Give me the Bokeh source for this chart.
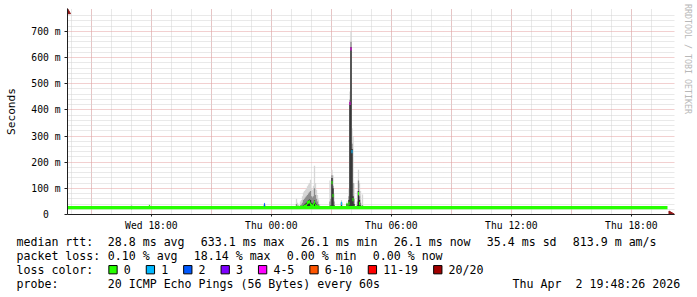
import math
from bokeh.plotting import figure
from bokeh.layouts import column
from bokeh.models import Range1d, FixedTicker, LinearAxis, ColumnDataSource
from bokeh.core.properties import value
from bokeh.embed import file_html
from bokeh.resources import INLINE

FONT = "DejaVu Sans Mono"

# ---------------- data ----------------
# time in hours since Wed 00:00; the graph covers 30 h ending Thu 19:48:26
t_end = 24 + 19 + 48 / 60 + 26 / 3600
t_start = t_end - 30

x_tick_hours = [18, 24, 30, 36, 42]
x_tick_labels = ["Wed 18:00", "Thu 00:00", "Thu 06:00", "Thu 12:00", "Thu 18:00"]
x_major_grid = [15, 18, 21, 24, 27, 30, 33, 36, 39, 42]
x_minor_grid = list(range(14, 44))

y_ticks = [0, 100, 200, 300, 400, 500, 600, 700]
y_tick_labels = ["0\u00a0\u00a0", "100 m", "200 m", "300 m", "400 m", "500 m", "600 m", "700 m"]
y_minor = [20, 40, 60, 80, 120, 140, 160, 180, 220, 240, 260, 280, 320, 340, 360, 380,
           420, 440, 460, 480, 520, 540, 560, 580, 620, 640, 660, 680, 720, 740, 760]

# median rtt (ms) on quiet periods
base_t = [t_start, 18.0, 24.0, 30.0, 36.0, 42.0, t_end]
base_med = [26.5, 26.5, 26.5, 26.5, 26.5, 26.5, 26.5]

# busy 3-minute bins: time, smoke (ping spread, ms), median (ms), loss class
ev_t = [17.007, 17.907, 23.657,
        25.257, 25.307, 25.357, 25.457, 25.507, 25.557, 25.607, 25.657, 25.707, 25.757,
        25.807, 25.857, 25.907, 25.957, 26.007, 26.057, 26.107, 26.157, 26.207, 26.257,
        26.307, 26.357, 26.407,
        26.932, 26.982, 27.032, 27.082, 27.132,
        27.507, 27.782, 27.882, 27.932, 27.982, 28.032, 28.082, 28.132,
        28.307, 28.357, 28.407, 28.457, 28.557]
ev_lo = [25] * len(ev_t)
ev_light = [38, 40, 45,
            60, 45, 35, 50, 55, 70, 84, 90, 95, 100,
            108, 115, 120, 133, 100, 95, 110, 186, 120, 95,
            75, 57, 40,
            130, 120, 171, 150, 80,
            55, 50, 100, 470, 700, 330, 300, 120,
            90, 171, 120, 90, 76]
ev_mid = [33, 35, 40,
          40, 32, 30, 35, 38, 45, 55, 60, 65, 70,
          75, 80, 85, 90, 70, 65, 70, 100, 75, 60,
          50, 40, 32,
          50, 60, 150, 110, 50,
          48, 42, 70, 440, 660, 270, 120, 60,
          50, 130, 70, 45, 35]
ev_dark = [30, 32, 36,
           30, 28, 28, 29, 30, 32, 35, 38, 42, 45,
           50, 55, 57, 55, 45, 42, 45, 55, 45, 38,
           35, 30, 28,
           30, 35, 140, 100, 35,
           45, 40, 55, 430, 640, 250, 70, 40,
           35, 90, 55, 35, 30]
ev_med = [26.5, 30, 37,
          27, 27, 27, 27, 27, 27, 28, 30, 32, 35,
          45, 47, 48, 40, 35, 32, 38, 47, 35, 30,
          30, 27, 27,
          27, 27, 122, 72, 27,
          42, 38, 42, 425, 633, 240, 57, 27,
          27, 80, 42, 27, 27]
ev_loss = ["0", "0", "2",
           "0", "0", "0", "0", "0", "0", "0", "0", "0", "0",
           "0", "0", "0", "0", "0", "0", "0", "0", "0", "0",
           "0", "0", "0",
           "0", "0", "0", "0", "0",
           "1", "0", "0", "4-5", "4-5", "1", "0", "0",
           "0", "0", "0", "0", "0"]
bin_hours = 0.05

loss_names = ["0", "1", "2", "3", "4-5", "6-10", "11-19", "20/20"]
loss_colors = ["#26ff00", "#00b8ff", "#0059ff", "#7e00ff", "#ff00ff", "#ff5500", "#ff0000", "#a10000"]

median_stats = [("28.8 ms", "avg"), ("633.1 ms", "max"), ("26.1 ms", "min"), ("26.1 ms", "now"),
                ("35.4 ms", "sd"), ("813.9 m", "am/s")]
loss_stats = [("0.10 %", "avg"), ("18.14 %", "max"), ("0.00 %", "min"), ("0.00 %", "now")]
probe_text = "20 ICMP Echo Pings (56 Bytes) every 60s"
stamp = ["Thu Apr", "2 19:48:26 2026"]
watermark = "RRDTOOL / TOBI OETIKER"

# ---------------- chart ----------------
W, H1, H2 = 697, 233, 64
px_per_ms = 184 / 700          # 700 ms spans 184 px
px_per_h = 20                  # 30 h span 600 px
frame_top, frame_bottom, frame_left, frame_right = 8, 215, 67, 674
y_top = (frame_bottom - frame_top) / px_per_ms
x_right = t_start + (frame_right - frame_left) / px_per_h

p = figure(width=W, height=H1, x_range=Range1d(t_start, x_right), y_range=Range1d(0, y_top),
           output_backend="svg", toolbar_location=None,
           min_border_left=frame_left, min_border_right=W - frame_right,
           min_border_top=frame_top, min_border_bottom=H1 - frame_bottom,
           background_fill_color="white", border_fill_color="white", outline_line_color=None)
p.frame_align = False

grey_light, grey_mid, grey_dark = "#d6d6d6", "#8c8c8c", "#2c2c2c"
half = bin_hours * 0.65
src = ColumnDataSource(dict(left=[t - half for t in ev_t], right=[t + half for t in ev_t],
                            lo=ev_lo, light=ev_light, mid=ev_mid, dark=ev_dark, t=ev_t, med=ev_med,
                            col=[loss_colors[loss_names.index(l)] for l in ev_loss]))
p.quad(left="left", right="right", bottom="lo", top="light", source=src,
       fill_color=grey_light, line_color=None)
p.quad(left="left", right="right", bottom="lo", top="mid", source=src,
       fill_color=grey_mid, line_color=None)
p.quad(left="left", right="right", bottom="lo", top="dark", source=src,
       fill_color=grey_dark, line_color=None)
p.line(base_t, base_med, line_color=loss_colors[0], line_width=3.3)
p.rect(x="t", y="med", width=bin_hours, height=3.3, height_units="screen", source=src,
       fill_color="col", line_color=None)

# axes
xa = p.xaxis[0]
xa.ticker = FixedTicker(ticks=x_tick_hours)
xa.major_label_overrides = {h: s for h, s in zip(x_tick_hours, x_tick_labels)}
ya = p.yaxis[0]
ya.ticker = FixedTicker(ticks=y_ticks, minor_ticks=y_minor)
ya.major_label_overrides = {v: s for v, s in zip(y_ticks, y_tick_labels)}
ya.axis_label = "Seconds"
ya.axis_label_standoff = 10
ya.axis_label_text_font = FONT
ya.axis_label_text_font_size = "11.2px"
ya.axis_label_text_font_style = "normal"
ya.axis_label_text_color = "black"
for ax in (xa, ya):
    ax.axis_line_color = "#202020"
    ax.major_tick_line_color = "#202020"
    ax.major_tick_in = 0
    ax.major_tick_out = 3
    ax.minor_tick_in = 0
    ax.minor_tick_out = 0
    ax.major_label_text_font = FONT
    ax.major_label_text_font_size = "9.7px"
    ax.major_label_text_color = "black"
ya.major_label_standoff = 4
xa.major_tick_out = 2
xa.major_label_standoff = 3

p.xgrid.ticker = FixedTicker(ticks=x_major_grid, minor_ticks=x_minor_grid)
p.ygrid.ticker = FixedTicker(ticks=y_ticks, minor_ticks=y_minor)
for g in (p.xgrid[0], p.ygrid[0]):
    g.grid_line_color = "#e4a0a0"
    g.grid_line_dash = "1 1"
    g.grid_line_width = 1
    g.minor_grid_line_color = "#d2d2d2"
    g.minor_grid_line_dash = "1 1"
    g.minor_grid_line_width = 1

# arrow heads at the axis ends
arrow_c = "#901818"
p.scatter(x=[t_start], y=[y_top - 3.5 / px_per_ms], marker="triangle", size=6,
          fill_color=arrow_c, line_color=arrow_c)
p.scatter(x=[t_end + 3.5 / px_per_h], y=[0], marker="triangle", angle=-math.pi / 2, size=7,
          fill_color=arrow_c, line_color=arrow_c)

# watermark on the right edge (reads top to bottom)
wm_axis = LinearAxis(ticker=FixedTicker(ticks=[]), axis_line_color=None,
                     major_tick_line_color=None, minor_tick_line_color=None,
                     axis_label=watermark + "\u00a0" * 21, axis_label_standoff=8,
                     axis_label_text_font=FONT, axis_label_text_font_size="8.3px",
                     axis_label_text_font_style="normal", axis_label_text_color="#b8b8b8")
p.add_layout(wm_axis, "right")

# ---------------- legend area ----------------
q = figure(width=W, height=H2, x_range=Range1d(0, W), y_range=Range1d(H2, 0),
           output_backend="svg", toolbar_location=None, min_border=0,
           x_axis_type=None, y_axis_type=None, outline_line_color=None,
           background_fill_color="white", border_fill_color="white")
q.frame_align = False
q.grid.visible = False

cw = 7.0
gap = 16
x_label = 16
x_col = 107.3
rows = [8.7, 22.5, 36.2, 50.3]

tx, ty, tt = [], [], []
tx.append(x_label); ty.append(rows[0]); tt.append("median rtt:")
x = x_col
for v, k in median_stats:
    s = f"{v} {k}"
    tx.append(x); ty.append(rows[0]); tt.append(s)
    x += len(s) * cw + gap
tx.append(x_label); ty.append(rows[1]); tt.append("packet loss:")
x = x_col
for v, k in loss_stats:
    s = f"{v} {k}"
    tx.append(x); ty.append(rows[1]); tt.append(s)
    x += len(s) * cw + gap
tx.append(x_label); ty.append(rows[2]); tt.append("loss color:")
bx, by, bc = [], [], []
x = x_col + 1
for name, c in zip(loss_names, loss_colors):
    bx.append(x + 4.2); by.append(rows[2]); bc.append(c)
    tx.append(x + 15); ty.append(rows[2]); tt.append(name)
    x += 15 + len(name) * cw + 15.4
tx.append(x_label); ty.append(rows[3]); tt.append("probe:")
tx.append(x_col); ty.append(rows[3]); tt.append(probe_text)
x_stamp = 680 - (len(stamp[0]) + 2 + len(stamp[1])) * cw
tx.append(x_stamp); ty.append(rows[3]); tt.append(stamp[0])
tx.append(x_stamp + (len(stamp[0]) + 2) * cw); ty.append(rows[3]); tt.append(stamp[1])

q.text(x=tx, y=ty, text=tt, text_font=value(FONT), text_font_size=value("11.6px"),
       text_baseline="middle", text_align="left", text_color="black")
q.rect(x=bx, y=by, width=8.3, height=8.3, fill_color=bc, line_color="black", line_width=1)

layout = column(p, q, spacing=0)
open("out.html", "w").write(file_html(layout, INLINE))
